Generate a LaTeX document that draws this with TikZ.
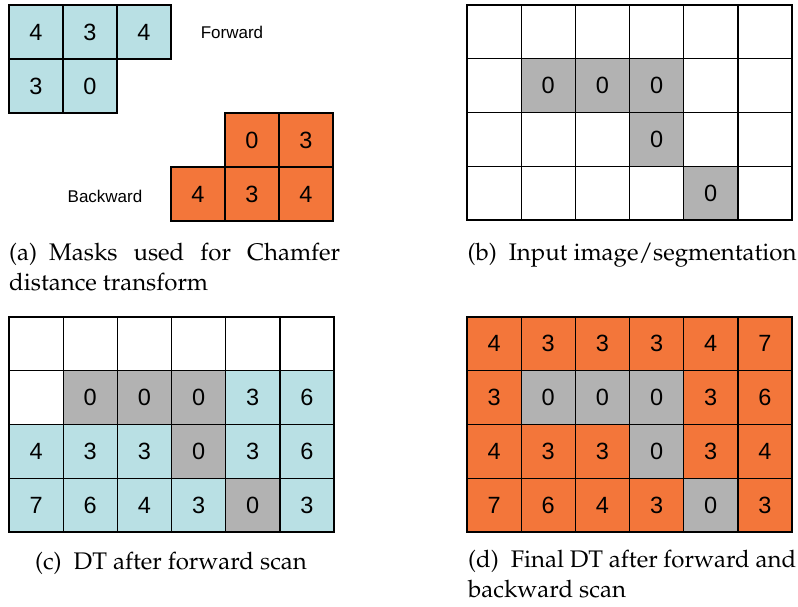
\documentclass[tikz,border=0pt]{standalone}
\usepackage{fontspec}
\usepackage[T1,TU]{fontenc}
\newfontfamily\cellfont{Liberation Sans}
\newcommand\capfont{\fontencoding{T1}\fontfamily{ppl}\fontsize{24}{29.5}\selectfont}

\definecolor{cw}{RGB}{255,255,255}
\definecolor{cg}{RGB}{178,178,178}
\definecolor{cb}{RGB}{185,224,228}
\definecolor{co}{RGB}{243,118,58}

\tikzset{
  cell/.style={draw=black, line width=1.3pt, minimum width=54.17pt,
    minimum height=53.75pt, inner sep=0pt, font=\cellfont\fontsize{23.5}{28}\selectfont},
  maskcell/.style={cell, minimum width=54pt, minimum height=54pt},
  label/.style={font=\cellfont\fontsize{17}{20}\selectfont, inner sep=0pt},
  caption/.style={font=\capfont, inner sep=0pt}
}

% one row of a grid: prefix, row index, left x, top y, list of colour/text
\newcommand\gridrow[5]{%
  \foreach \c/\s/\t in {#5}{%
    \node[cell, fill=\s] (#1-#2-\c) at ({#3+(\c-0.5)*54.17},{#4+(#2-0.5)*53.75}) {\t};
  }}

\begin{document}
\begin{tikzpicture}[x=1pt, y=-1pt]
\useasboundingbox (0,0) rectangle (798,606);

% (a) forward and backward masks
\node[maskcell, fill=cb] (f11) at (36,32) {4};
\node[maskcell, fill=cb] (f12) at (90,32) {3};
\node[maskcell, fill=cb] (f13) at (144,32) {4};
\node[maskcell, fill=cb] (f21) at (36,86) {3};
\node[maskcell, fill=cb] (f22) at (90,86) {0};
\node[label] (fwd) at (232,32) {Forward};

\node[maskcell, fill=co] (b12) at (252,140) {0};
\node[maskcell, fill=co] (b13) at (306,140) {3};
\node[maskcell, fill=co] (b21) at (198,194) {4};
\node[maskcell, fill=co] (b22) at (252,194) {3};
\node[maskcell, fill=co] (b23) at (306,194) {4};
\node[label] (bwd) at (105,196) {Backward};

\node[caption, anchor=north west, text width=331pt, align=justify] (capa) at (9,243)
  {(a)\hspace{0.5em}Masks used for Chamfer\linebreak distance transform};

% (b) input image
\gridrow{in}{1}{467}{5}{1/cw/,2/cw/,3/cw/,4/cw/,5/cw/,6/cw/}
\gridrow{in}{2}{467}{5}{1/cw/,2/cg/0,3/cg/0,4/cg/0,5/cw/,6/cw/}
\gridrow{in}{3}{467}{5}{1/cw/,2/cw/,3/cw/,4/cg/0,5/cw/,6/cw/}
\gridrow{in}{4}{467}{5}{1/cw/,2/cw/,3/cw/,4/cw/,5/cg/0,6/cw/}
\node[caption, anchor=north] (capb) at (632,243) {(b)\hspace{0.5em}Input image/segmentation};

% (c) after the forward scan
\gridrow{fw}{1}{9}{317}{1/cw/,2/cw/,3/cw/,4/cw/,5/cw/,6/cw/}
\gridrow{fw}{2}{9}{317}{1/cw/,2/cg/0,3/cg/0,4/cg/0,5/cb/3,6/cb/6}
\gridrow{fw}{3}{9}{317}{1/cb/4,2/cb/3,3/cb/3,4/cg/0,5/cb/3,6/cb/6}
\gridrow{fw}{4}{9}{317}{1/cb/7,2/cb/6,3/cb/4,4/cb/3,5/cg/0,6/cb/3}
\node[caption, anchor=north] (capc) at (171,552) {(c)\hspace{0.5em}DT after forward scan};

% (d) final result
\gridrow{dt}{1}{467}{317}{1/co/4,2/co/3,3/co/3,4/co/3,5/co/4,6/co/7}
\gridrow{dt}{2}{467}{317}{1/co/3,2/cg/0,3/cg/0,4/cg/0,5/co/3,6/co/6}
\gridrow{dt}{3}{467}{317}{1/co/4,2/co/3,3/co/3,4/cg/0,5/co/3,6/co/4}
\gridrow{dt}{4}{467}{317}{1/co/7,2/co/6,3/co/4,4/co/3,5/cg/0,6/co/3}
\node[caption, anchor=north west, text width=328pt, align=justify] (capd) at (468,550)
  {(d)\hspace{0.5em}Final DT after forward and\linebreak backward scan};
\end{tikzpicture}
\end{document}
